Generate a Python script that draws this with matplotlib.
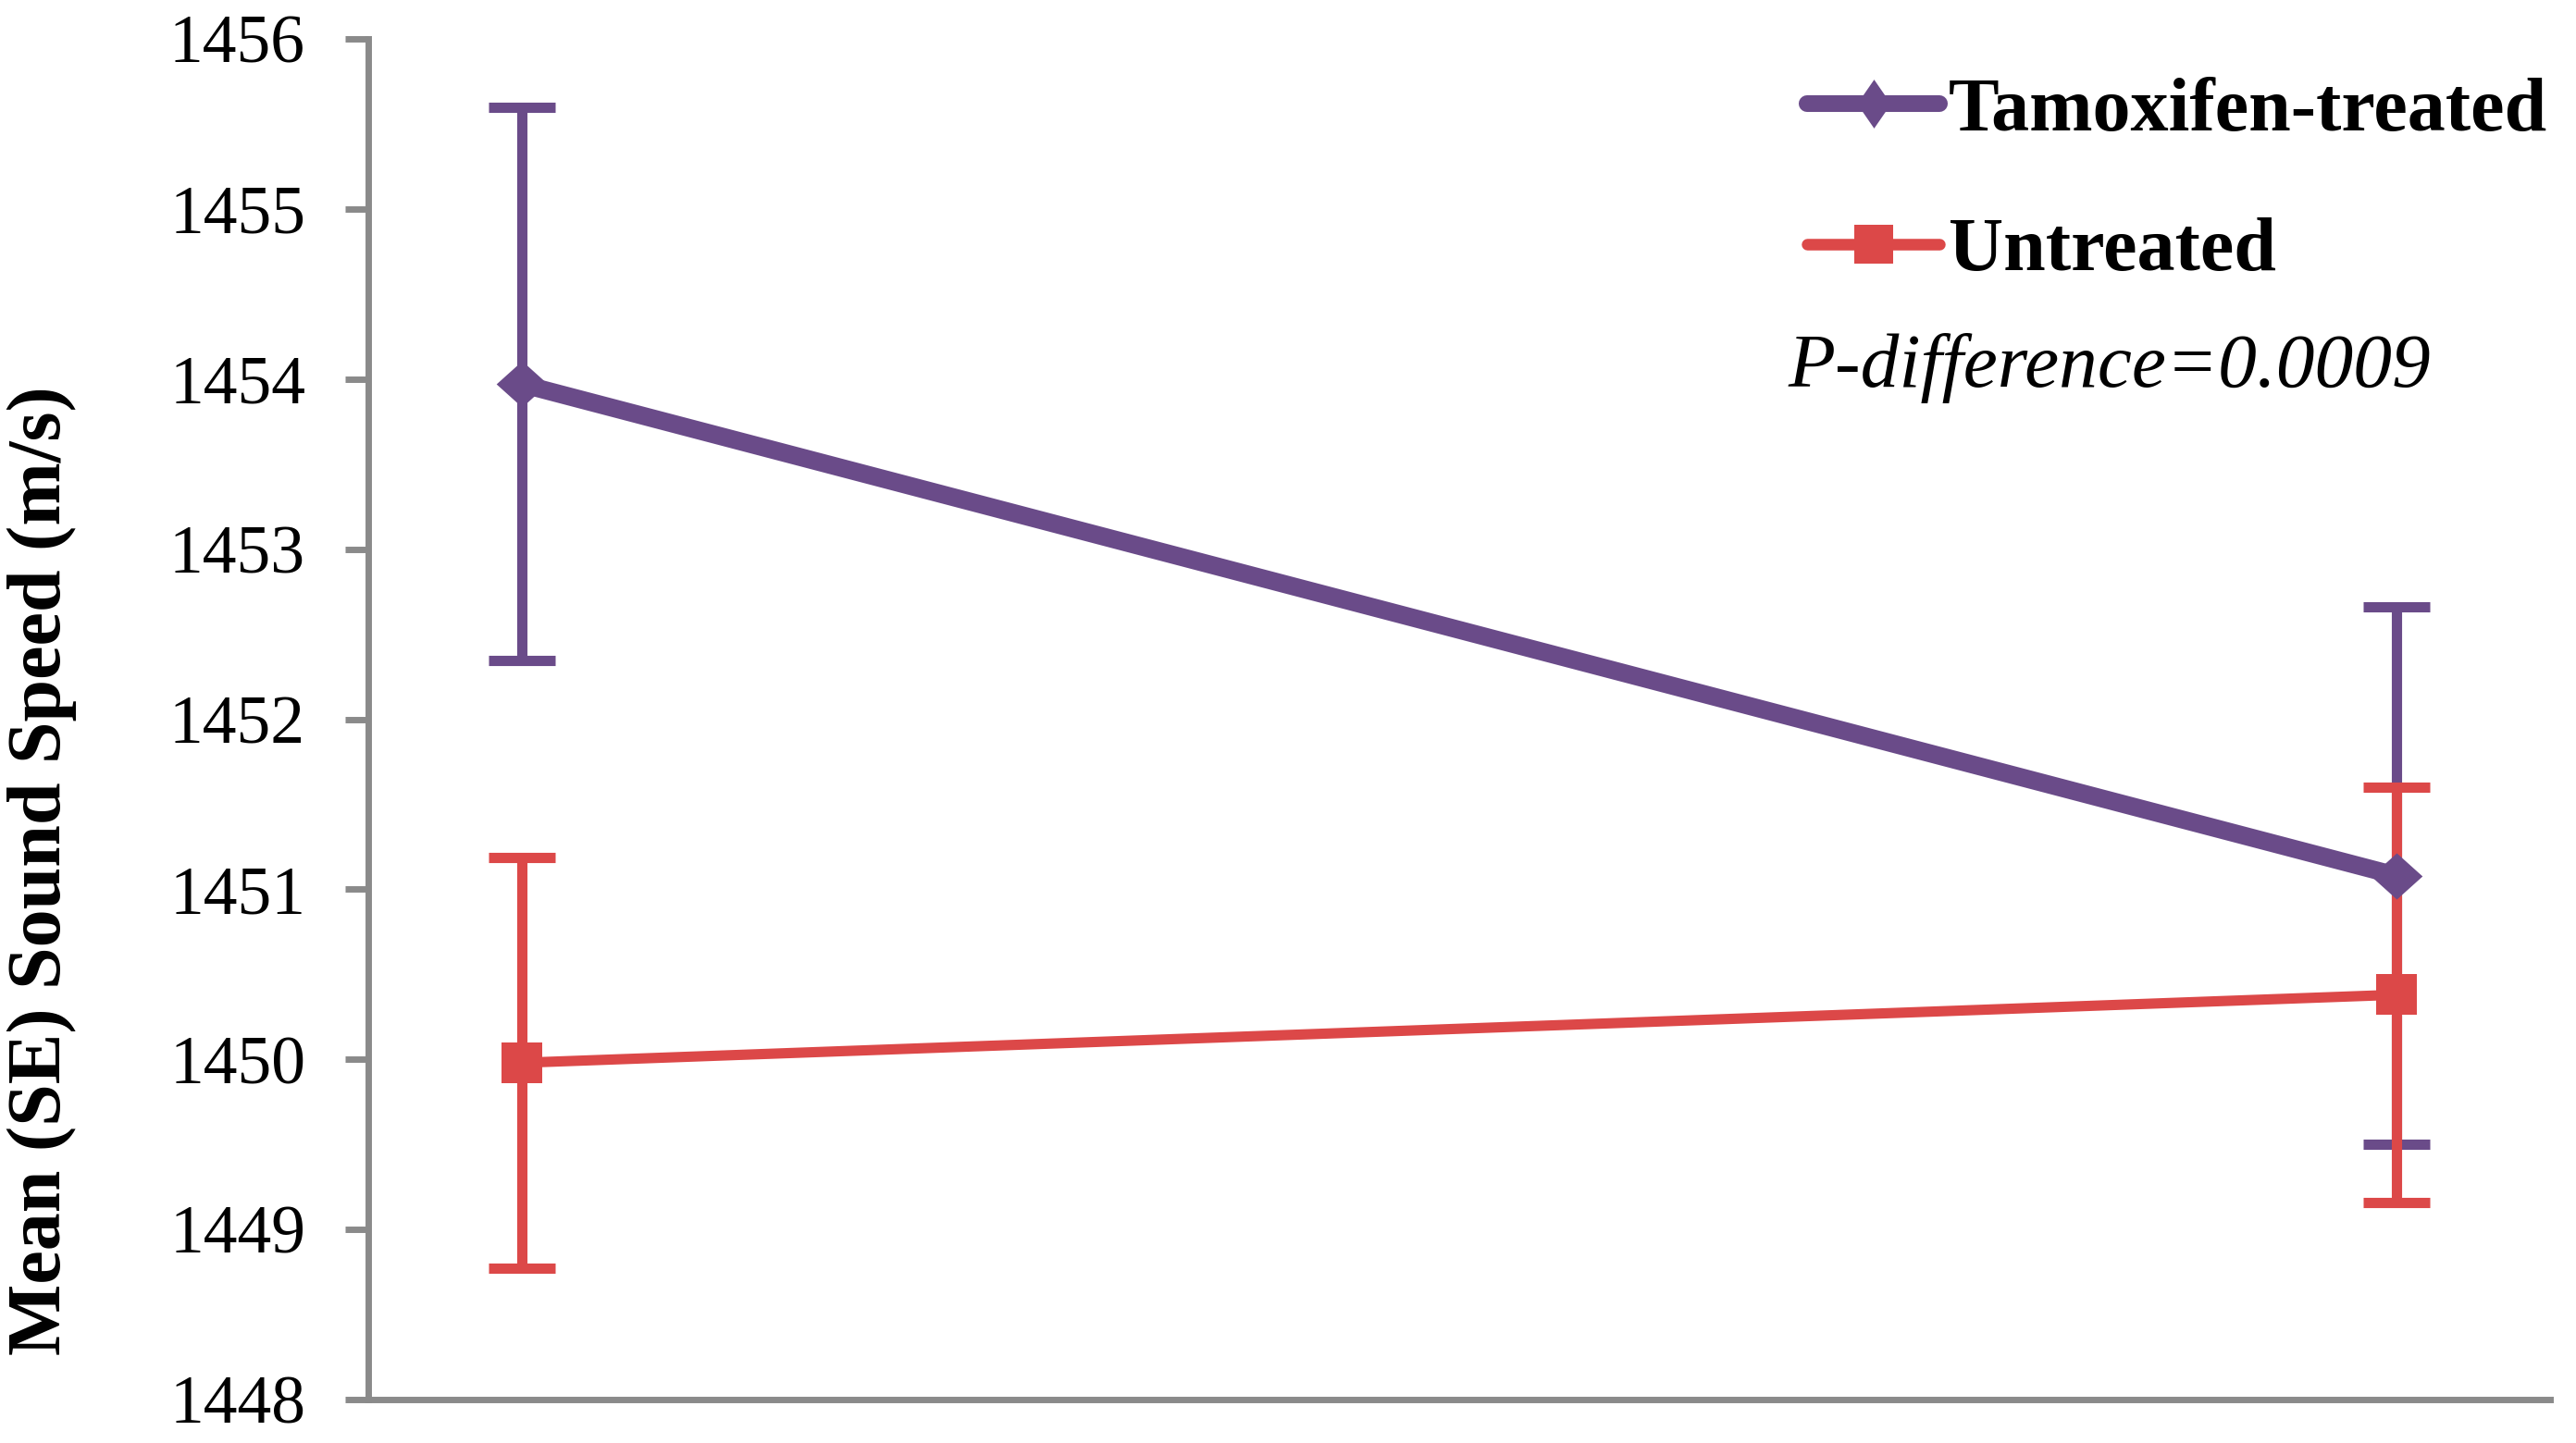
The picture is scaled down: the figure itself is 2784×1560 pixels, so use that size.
import matplotlib
matplotlib.use("Agg")
import matplotlib.pyplot as plt
from matplotlib.lines import Line2D
import numpy as np

plt.rcParams["font.family"] = ["Liberation Serif", "DejaVu Serif"]

# data
visits = ["Visit 1", "Visit 2"]
series_names = ["Tamoxifen-treated", "Untreated"]
tamoxifen_mean = [1453.97, 1451.08]
tamoxifen_se = [1.625, 1.58]
untreated_mean = [1449.98, 1450.38]
untreated_se = [1.205, 1.22]
y_ticks = [1448, 1449, 1450, 1451, 1452, 1453, 1454, 1455, 1456]
p_text = "P-difference=0.0009"

purple = "#6A4B89"
red = "#DC4848"
axis_grey = "#8A8A8A"

# wide diamond used in the plot, tall one in the legend
wide_diamond = [(-1, 0), (0, 0.9), (1, 0), (0, -0.9), (-1, 0)]
tall_diamond = [(-0.69, 0), (0, 1), (0.69, 0), (0, -1), (-0.69, 0)]

fig = plt.figure(figsize=(27.84, 15.6), dpi=100)
ax = fig.add_axes([0.143, 0.0301, 0.847, 0.9430])

x = np.arange(len(visits))

# error bars first (purple under red), then the lines
ax.errorbar(x, tamoxifen_mean, yerr=tamoxifen_se, fmt="none", ecolor=purple,
            elinewidth=8, capsize=26, capthick=8, zorder=2)
ax.errorbar(x, untreated_mean, yerr=untreated_se, fmt="none", ecolor=red,
            elinewidth=8, capsize=26, capthick=8, zorder=3)
ax.plot(x, untreated_mean, color=red, linewidth=8, marker="s", markersize=32,
        markeredgewidth=0, zorder=4)
ax.plot(x, tamoxifen_mean, color=purple, linewidth=14, marker=wide_diamond,
        markersize=40, markeredgewidth=0, zorder=5)

ax.set_xlim(-0.082, 1.082)
ax.set_ylim(y_ticks[0], y_ticks[-1])
ax.set_yticks(y_ticks)
ax.set_xticks([])

for side in ["top", "right"]:
    ax.spines[side].set_visible(False)
for side in ["left", "bottom"]:
    ax.spines[side].set_color(axis_grey)
    ax.spines[side].set_linewidth(5)
ax.tick_params(axis="y", direction="out", length=18, width=5, color=axis_grey,
               pad=31, labelsize=53, labelcolor="black")

fig.text(0.0162, 0.397, "Mean (SE) Sound Speed (m/s)", rotation=90,
         ha="center", va="center", fontsize=59, fontweight="bold")

handles = [
    Line2D([], [], color=purple, linewidth=13, marker=tall_diamond,
           markersize=38, markeredgewidth=0, solid_capstyle="round"),
    Line2D([], [], color=red, linewidth=9, marker="s", markersize=30,
           markeredgewidth=0, solid_capstyle="round"),
]
fig.legend(handles, series_names, loc="upper left",
           bbox_to_anchor=(0.7015, 0.9465), frameon=False, borderpad=0,
           borderaxespad=0, handlelength=1.75, handletextpad=0.12,
           labelspacing=0.93, prop={"weight": "bold", "size": 59})

fig.text(0.694, 1 - 418 / 1560, p_text, fontsize=60, style="italic",
         ha="left", va="baseline")

fig.savefig("out.png", dpi=100, facecolor="white")
